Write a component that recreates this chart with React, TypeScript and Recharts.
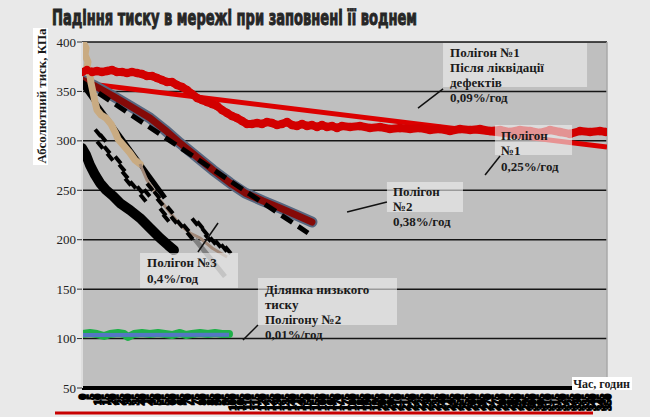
import React from 'react';
import { ComposedChart, Line, XAxis, YAxis, CartesianGrid, ReferenceArea, ReferenceLine } from 'recharts';

const yTicks = [50, 100, 150, 200, 250, 300, 350, 400];
const xTicks = [0, 5, 10, 15, 20, 25, 30, 35, 40, 45, 50, 55, 60, 65, 70, 75, 80, 85, 90, 95, 100, 105, 110, 115, 120, 125, 130, 135, 140, 145, 150, 155, 160, 165, 170, 175, 180, 185, 190, 195, 200, 205, 210, 215, 220, 225, 230, 235, 240, 245, 250, 255, 260, 265, 270, 275, 280, 285, 290, 295, 300, 305, 310, 315, 320, 325, 330, 335, 340, 345, 350];

// Полігон №1 (measured)
const poly1Data = [
  { h: 0, v: 369.7 }, { h: 3.3, v: 371.7 }, { h: 6.7, v: 369.7 }, { h: 10, v: 370.7 }, { h: 13.3, v: 369.7 },
  { h: 16.7, v: 370.7 }, { h: 20, v: 371.7 }, { h: 23.3, v: 369.7 }, { h: 26.7, v: 369.7 }, { h: 30, v: 368.6 },
  { h: 33.3, v: 369.7 }, { h: 36.7, v: 368.6 }, { h: 40, v: 367.6 }, { h: 43.3, v: 365.6 }, { h: 46.7, v: 365.6 },
  { h: 50, v: 363.6 }, { h: 53.3, v: 361.6 }, { h: 56.7, v: 359.5 }, { h: 60, v: 359.5 }, { h: 63.3, v: 356.5 },
  { h: 66.7, v: 354.5 }, { h: 70, v: 351.4 }, { h: 73.3, v: 347.4 }, { h: 76.7, v: 343.4 }, { h: 80, v: 341.3 },
  { h: 83.3, v: 339.3 }, { h: 86.7, v: 337.3 }, { h: 90, v: 335.3 }, { h: 93.3, v: 331.2 }, { h: 96.7, v: 328.2 },
  { h: 100, v: 325.1 }, { h: 103.3, v: 323.1 }, { h: 106.7, v: 320.1 }, { h: 110, v: 317.1 }, { h: 113.3, v: 317.1 },
  { h: 116.7, v: 318.1 }, { h: 120, v: 317.1 }, { h: 123.3, v: 319.1 }, { h: 126.7, v: 318.1 }, { h: 130, v: 316.0 },
  { h: 133.3, v: 317.1 }, { h: 136.7, v: 319.1 }, { h: 140, v: 316.0 }, { h: 143.3, v: 315.0 }, { h: 146.7, v: 317.1 },
  { h: 150, v: 315.0 }, { h: 153.3, v: 316.0 }, { h: 156.7, v: 314.0 }, { h: 160, v: 316.0 }, { h: 163.3, v: 314.0 },
  { h: 166.7, v: 315.0 }, { h: 170, v: 313.0 }, { h: 173.3, v: 315.0 }, { h: 178.7, v: 314 }, { h: 185.3, v: 315 },
  { h: 192, v: 313 }, { h: 198.7, v: 314 }, { h: 205.3, v: 312 }, { h: 212, v: 313 }, { h: 218.7, v: 312 },
  { h: 225.3, v: 313 }, { h: 232, v: 311 }, { h: 238.7, v: 312 }, { h: 245.3, v: 310 }, { h: 252, v: 312 },
  { h: 258.7, v: 311 }, { h: 265.3, v: 312 }, { h: 272, v: 310 }, { h: 278.7, v: 311 }, { h: 285.3, v: 309 },
  { h: 292, v: 311 }, { h: 298.7, v: 310 }, { h: 305.3, v: 308 }, { h: 312, v: 311 }, { h: 318.7, v: 309 },
  { h: 325.3, v: 307 }, { h: 332, v: 310 }, { h: 338.7, v: 309 }, { h: 345.3, v: 310 }, { h: 349.3, v: 309 },
];
const poly1Trend = [{ h: 0, v: 358.5 }, { h: 350, v: 293.8 }];

// Полігон №2
const poly2Data = [
  { h: 0, v: 361.6 }, { h: 8.7, v: 355.5 }, { h: 20.7, v: 345.4 }, { h: 32, v: 335.3 }, { h: 45.3, v: 323.1 },
  { h: 55.3, v: 311 }, { h: 65.3, v: 297.8 }, { h: 76.7, v: 283.7 }, { h: 87.3, v: 270.5 }, { h: 98.7, v: 257.4 },
  { h: 108.7, v: 247.3 }, { h: 120.7, v: 239.2 }, { h: 132, v: 232.1 }, { h: 142.7, v: 225 }, { h: 153.3, v: 217.9 },
];
const poly2Trend = [{ h: 0, v: 359.5 }, { h: 150.7, v: 206.8 }];

// Полігон №3 (tan)
const tanThick = [
  { h: 0.7, v: 400 }, { h: 2.7, v: 393.9 }, { h: 2, v: 386.9 }, { h: 4, v: 379.8 }, { h: 3.3, v: 373.7 },
  { h: 5.3, v: 366.6 }, { h: 6, v: 358.5 }, { h: 7.3, v: 349.4 }, { h: 8.7, v: 339.3 }, { h: 10, v: 331.2 },
  { h: 12.7, v: 326.2 }, { h: 16, v: 323.1 }, { h: 19.3, v: 317.1 }, { h: 22, v: 309 }, { h: 24, v: 301.9 },
  { h: 28, v: 294.8 }, { h: 32, v: 287.7 }, { h: 35.3, v: 280.6 }, { h: 38.7, v: 276.6 },
];
const tanThin = [
  { h: 38.7, v: 276.6 }, { h: 43.3, v: 260.4 }, { h: 52, v: 240.2 }, { h: 60, v: 225 }, { h: 65.3, v: 214.9 },
  { h: 72, v: 206.8 }, { h: 78.7, v: 201.8 }, { h: 86.7, v: 191.6 }, { h: 96.7, v: 182.5 },
];

// black band
const blackBand = [
  { h: 0, v: 292.8 }, { h: 2.7, v: 285.7 }, { h: 5.3, v: 275.6 }, { h: 8.7, v: 265.5 }, { h: 12, v: 257.4 },
  { h: 16, v: 250.3 }, { h: 20.7, v: 244.2 }, { h: 25.3, v: 237.1 }, { h: 32, v: 230 }, { h: 38.7, v: 221.9 },
  { h: 45.3, v: 211.8 }, { h: 52, v: 201.7 }, { h: 57.3, v: 194.6 }, { h: 61.3, v: 189.5 },
];
// black scattered markers
const blackDots = [
  { h: 10.7, v: 308 }, { h: 14, v: 302.9 }, { h: 12, v: 295.8 }, { h: 16.7, v: 290.8 }, { h: 18.7, v: 283.7 },
  { h: 24, v: 280.6 }, { h: 26.7, v: 272.6 }, { h: 28.7, v: 265.5 }, { h: 30.7, v: 258.4 }, { h: 34, v: 255.4 },
  { h: 38.7, v: 250.3 }, { h: 40.7, v: 242.2 }, { h: 43.3, v: 247.3 }, { h: 45.3, v: 253.3 }, { h: 50, v: 245.2 },
  { h: 52, v: 238.2 }, { h: 54, v: 228 }, { h: 56, v: 222 }, { h: 58.7, v: 230 }, { h: 61.3, v: 220 },
  { h: 65.3, v: 215.9 }, { h: 69.3, v: 211.9 }, { h: 72, v: 203.8 }, { h: 75.3, v: 217.9 }, { h: 78.7, v: 214.9 },
  { h: 82, v: 207.8 }, { h: 84, v: 201.7 }, { h: 87.3, v: 198.7 }, { h: 90.7, v: 195.7 }, { h: 94.7, v: 191.6 },
  { h: 97.3, v: 189.6 },
];
const blackTrend = [{ h: 0, v: 357.5 }, { h: 55.3, v: 242.2 }];
const grayTrend = [{ h: 75.3, v: 200.3 }, { h: 95.3, v: 162.8 }];

// Ділянка низького тиску
const lowGreen = [
  { h: 0, v: 104.6 }, { h: 5.3, v: 105.7 }, { h: 10, v: 104.6 }, { h: 14.7, v: 102.6 }, { h: 18.7, v: 104.6 },
  { h: 24, v: 105.7 }, { h: 28, v: 104.6 }, { h: 30.7, v: 101.6 }, { h: 34.7, v: 104.6 }, { h: 40, v: 105.7 },
  { h: 45.3, v: 104.6 }, { h: 50.7, v: 105.7 }, { h: 55.3, v: 104.6 }, { h: 60, v: 103.6 }, { h: 65.3, v: 105.7 },
  { h: 69.3, v: 103.6 }, { h: 73.3, v: 104.6 }, { h: 78.7, v: 105.7 }, { h: 84, v: 104.6 }, { h: 88.7, v: 105.7 },
  { h: 93.3, v: 104.6 }, { h: 98, v: 104.6 },
];
const lowBlue = [{ h: 0, v: 103.6 }, { h: 98, v: 103.8 }];

const SERIF = "'Liberation Serif', 'Times New Roman', serif";

const AnnoLabel = (props: any) => {
  const { viewBox, lines, dx, tops } = props;
  if (!viewBox) return null;
  return (
    <g>
      {lines.map((t: string, i: number) => (
        <text key={i} x={viewBox.x + dx} y={viewBox.y + tops[i]} fontFamily={SERIF} fontWeight="bold" fontSize={13} fill="#1a1a1a">
          {t}
        </text>
      ))}
    </g>
  );
};

const XTick = (p: any) => {
  const { x, y, payload } = p;
  return (
    <text x={0} y={0} transform={`translate(${x},${y - 2}) rotate(-90)`} textAnchor="end" dominantBaseline="central"
      fontSize={11} fontWeight="bold" fontFamily={SERIF} fill="#000" stroke="#000" strokeWidth={1.6}>
      {payload.value}
    </text>
  );
};

const renderDash = (p: any) => {
  const { cx, cy, index } = p;
  if (cx == null || cy == null) return <g key={`d${index}`} />;
  return <rect key={`d${index}`} x={cx - 4.5} y={cy - 2} width={9} height={4} fill="#000" transform={`rotate(50 ${cx} ${cy})`} />;
};

const annoBox = { fill: '#eeeeee', fillOpacity: 0.62, stroke: 'none', zIndex: 1500 };
const leader = { stroke: '#111', strokeWidth: 1.5, zIndex: 1500 };

export default function App() {
  return (
    <div style={{ position: 'absolute', left: 0, top: 0, width: 650, height: 417, background: '#e9e9e9', overflow: 'hidden' }}>
      <ComposedChart width={650} height={417} margin={{ top: 42, right: 43, left: 0, bottom: 0 }}>
        <CartesianGrid horizontal vertical={false} stroke="#151515" strokeWidth={1.5} fill="#bfbfbf" fillOpacity={1} />
        <XAxis type="number" dataKey="h" domain={[0, 350]} ticks={xTicks} interval={0} height={29}
          axisLine={{ stroke: '#000', strokeWidth: 4 }} tickLine={false} tick={<XTick />} allowDataOverflow />
        <YAxis type="number" dataKey="v" domain={[50, 400]} ticks={yTicks} width={82} allowDataOverflow
          axisLine={{ stroke: '#dedede', strokeWidth: 2 }} tickLine={{ stroke: '#333' }} tickSize={5}
          tick={{ fontFamily: SERIF, fontSize: 13, fill: '#222' }} tickMargin={1} />
        <ReferenceLine x={350} stroke="#a9a9a9" strokeWidth={1.5} />

        <Line data={lowGreen} dataKey="v" type="linear" stroke="#1fb04a" strokeWidth={8} strokeLinecap="round" strokeLinejoin="round" dot={false} activeDot={false} isAnimationActive={false} />
        <Line data={lowBlue} dataKey="v" type="linear" stroke="#5476c4" strokeWidth={4} dot={false} activeDot={false} isAnimationActive={false} />

        <Line data={poly1Trend} dataKey="v" type="linear" stroke="#dc0000" strokeWidth={5} dot={false} activeDot={false} isAnimationActive={false} />
        <Line data={poly1Data} dataKey="v" type="linear" stroke="#d20000" strokeWidth={8} strokeLinecap="round" strokeLinejoin="round"
          dot={{ r: 4.2, fill: '#d20000', stroke: 'none' }} activeDot={false} isAnimationActive={false} />

        <Line data={poly2Data} dataKey="v" type="linear" stroke="#56667f" strokeWidth={11} strokeLinecap="round" strokeLinejoin="round" dot={false} activeDot={false} isAnimationActive={false} />
        <Line data={poly2Data} dataKey="v" type="linear" stroke="#850a08" strokeWidth={7} strokeLinecap="round" strokeLinejoin="round" dot={false} activeDot={false} isAnimationActive={false} />
        <Line data={poly2Trend} dataKey="v" type="linear" stroke="#000" strokeWidth={5} strokeDasharray="13 7" dot={false} activeDot={false} isAnimationActive={false} />

        <Line data={blackBand} dataKey="v" type="linear" stroke="#000" strokeWidth={10} strokeLinecap="round" strokeLinejoin="round" dot={false} activeDot={false} isAnimationActive={false} />
        <Line data={blackTrend} dataKey="v" type="linear" stroke="#000" strokeWidth={5} dot={false} activeDot={false} isAnimationActive={false} />
        <Line data={tanThick} dataKey="v" type="linear" stroke="#c9ab82" strokeWidth={7} strokeLinecap="round" strokeLinejoin="round" dot={false} activeDot={false} isAnimationActive={false} />
        <Line data={tanThin} dataKey="v" type="linear" stroke="#a08878" strokeWidth={3} dot={false} activeDot={false} isAnimationActive={false} />
        <Line data={grayTrend} dataKey="v" type="linear" stroke="#808080" strokeWidth={5} dot={false} activeDot={false} isAnimationActive={false} />
        <Line data={blackDots} dataKey="v" type="linear" stroke="none" dot={renderDash} activeDot={false} isAnimationActive={false} />

        <ReferenceArea x1={240.7} x2={336.7} y1={354.5} y2={399} {...annoBox} ifOverflow="visible"
          label={<AnnoLabel lines={['Полігон №1', 'Після ліквідації', 'дефектів', '0,09%/год']} dx={7} tops={[14.5, 29.5, 44.5, 59.5]} />} />
        <ReferenceArea x1={275.3} x2={326.7} y1={285.7} y2={316} {...annoBox} ifOverflow="visible"
          label={<AnnoLabel lines={['Полігон', '№1', '0,25%/год']} dx={6} tops={[15, 30, 45.5]} />} />
        <ReferenceArea x1={203.3} x2={254} y1={228} y2={258.4} {...annoBox} ifOverflow="visible"
          label={<AnnoLabel lines={['Полігон', '№2', '0,38%/год']} dx={6} tops={[14.5, 29.5, 44.5]} />} />
        <ReferenceArea x1={38.7} x2={104} y1={151.2} y2={186.6} {...annoBox} ifOverflow="visible"
          label={<AnnoLabel lines={['Полігон №3', '0,4%/год']} dx={7} tops={[14.5, 30.5]} />} />
        <ReferenceArea x1={117.3} x2={210} y1={113.7} y2={161.3} {...annoBox} ifOverflow="visible"
          label={<AnnoLabel lines={['Ділянка низького', 'тиску', 'Полігону №2', '0,01%/год']} dx={7} tops={[16, 31, 46, 61]} />} />

        <ReferenceLine segment={[{ x: 224, y: 333.2 }, { x: 240.7, y: 352.5 }]} {...leader} ifOverflow="visible" />
        <ReferenceLine segment={[{ x: 268.7, y: 265.5 }, { x: 278.7, y: 284.7 }]} {...leader} ifOverflow="visible" />
        <ReferenceLine segment={[{ x: 176.7, y: 228 }, { x: 203.3, y: 238.2 }]} {...leader} ifOverflow="visible" />
        <ReferenceLine segment={[{ x: 77.3, y: 187.6 }, { x: 90.7, y: 216.9 }]} {...leader} ifOverflow="visible" />
        <ReferenceLine segment={[{ x: 107.3, y: 98.6 }, { x: 117.3, y: 113.7 }]} {...leader} ifOverflow="visible" />
      </ComposedChart>
      <svg width={650} height={417} style={{ position: 'absolute', left: 0, top: 0, pointerEvents: 'none' }}>
        <text x={52} y={25} fontFamily="'DejaVu Sans Condensed', 'DejaVu Sans', sans-serif" fontWeight="bold" fontSize={20.5}
          textLength={365} lengthAdjust="spacingAndGlyphs" fill="#262626" stroke="#262626" strokeWidth={0.9}>
          Падіння тиску в мережі при заповнені її воднем
        </text>
        <rect x={33} y={28} width={15} height={137} fill="#ffffff" />
        <text x={0} y={0} transform="translate(41,96) rotate(-90)" textAnchor="middle" dominantBaseline="central"
          fontFamily={SERIF} fontWeight="bold" fontSize={13} textLength={135} lengthAdjust="spacingAndGlyphs" fill="#1a1a1a">
          Абсолютний тиск, КПа
        </text>
        <rect x={572} y={377} width={60} height={13} fill="#ffffff" />
        <text x={630} y={388} textAnchor="end" fontFamily={SERIF} fontWeight="bold" fontSize={12} fill="#1a1a1a">Час, годин</text>
        <rect x={55} y={411.5} width={538} height={3} fill="#c80000" />
      </svg>
    </div>
  );
}
